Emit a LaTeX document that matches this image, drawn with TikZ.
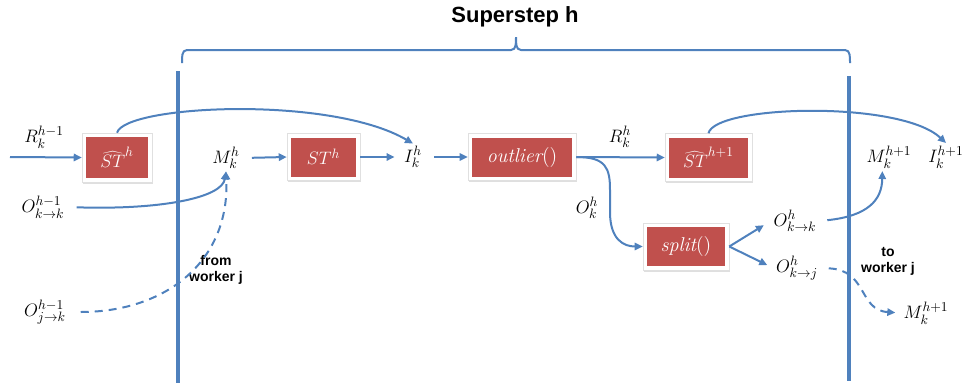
\RequirePackage{fix-cm}
\documentclass[tikz,border=0pt]{standalone}
\usepackage{fontspec}
\newfontfamily\sansf{Liberation Sans}
\DeclareMathSizes{13.5}{13.5}{10.2}{8}
\DeclareMathSizes{15}{15}{11}{8.5}
\usetikzlibrary{arrows.meta,shadows}
\definecolor{lineblue}{RGB}{79,129,189}
\definecolor{boxred}{RGB}{192,80,77}
\begin{document}
\begin{tikzpicture}[x=0.75pt,y=-0.75pt,
  proc/.style={fill=white, draw=black!12, line width=0.4pt, text=white,
    drop shadow={opacity=0.25, shadow xshift=0.9pt, shadow yshift=-1.4pt},
    path picture={\fill[boxred] ([shift={(3pt,3pt)}]path picture bounding box.south west)
      rectangle ([shift={(-3pt,-3pt)}]path picture bounding box.north east);},
    font=\fontsize{13.5}{15}\selectfont, inner sep=0pt},
  big/.style={font=\fontsize{15}{17}\selectfont},
  lab/.style={font=\fontsize{13.5}{15}\selectfont, inner sep=2pt},
  note/.style={font=\sansf\bfseries\fontsize{10.5}{12}\selectfont, align=center, inner sep=0pt},
  flow/.style={draw=lineblue, line width=1.5pt, -{Triangle[length=6pt,width=5.5pt]}},
  dflow/.style={flow, dash pattern=on 6pt off 4.5pt},
  wall/.style={draw=lineblue, line width=3pt},
  brace/.style={draw=lineblue, line width=1.5pt}]
\useasboundingbox (0,0) rectangle (965,383);

% title and brace
\node[font=\sansf\bfseries\fontsize{16.5}{18}\selectfont, anchor=base] (title) at (515,22) {Superstep h};
\draw[brace] (182,63) to[out=90,in=180] (187,50) -- (511,50) to[out=0,in=-90] (516,37)
  to[out=-90,in=180] (521,50) -- (845,50) to[out=0,in=90] (850,63);

% walls
\draw[wall] (178,71) -- (178,383);
\draw[wall] (849,76) -- (849,381);

% boxes
\node[proc, minimum width=52.5pt, minimum height=36.75pt] (b1) at (117,157.5) {$\widehat{ST}^{h}$};
\node[proc, minimum width=54.75pt, minimum height=35.25pt] (b2) at (323.5,157) {$ST^{h}$};
\node[proc, big, minimum width=81pt, minimum height=35.25pt] (b3) at (522,157) {$\mathit{outlier}()$};
\node[proc, minimum width=65.25pt, minimum height=36pt] (b4) at (708.5,157.5) {$\widehat{ST}^{h+1}$};
\node[proc, big, minimum width=64.5pt, minimum height=35.25pt] (b5) at (686,246.5) {$\mathit{split}()$};

% labels
\node[lab] (Rk0) at (44,137) {$R_k^{h-1}$};
\node[lab] (Okk0) at (43,207) {$O_{k\to k}^{h-1}$};
\node[lab] (Ojk0) at (45,312) {$O_{j\to k}^{h-1}$};
\node[lab] (Mk) at (226,158) {$M_k^{h}$};
\node[note] (from) at (216,270) {from\\worker j};
\node[lab] (Ik) at (413,157) {$I_k^{h}$};
\node[lab] (Rkh) at (620,137) {$R_k^{h}$};
\node[lab] (Okh) at (587,208) {$O_k^{h}$};
\node[lab] (Okkh) at (795,221) {$O_{k\to k}^{h}$};
\node[lab] (Okjh) at (797,268) {$O_{k\to j}^{h}$};
\node[lab] (Mk1) at (889,157) {$M_k^{h+1}$};
\node[lab] (Ik1) at (946,157) {$I_k^{h+1}$};
\node[note] (to) at (888,261) {to\\worker j};
\node[lab] (Mk1b) at (926,313) {$M_k^{h+1}$};

% connectors
\coordinate (in0) at (10,157);
\draw[flow] (in0) -- (b1.west);
\draw[flow] (b1.north) .. controls (125,105) and (330,95) .. (Ik.north);
\draw[flow, shorten <=7pt] (Okk0.east) .. controls (160,210) and (222,198) .. (Mk.south);
\draw[dflow, shorten <=9pt] (Ojk0.east) .. controls (165,312) and (230,262) .. (Mk.south);
\draw[flow, shorten <=7pt] (Mk.east) -- (b2.west);
\draw[flow, shorten >=5pt] (b2.east) -- (Ik.west);
\draw[flow, shorten <=7pt] (Ik.east) -- (b3.west);
\draw[flow] (b3.east) -- (b4.west);
\draw[flow] (b3.east) .. controls (606,157) and (610,168) .. (610,190) -- (610,212)
  .. controls (610,240) and (624,246.5) .. (b5.west);
\draw[flow, shorten >=6pt] (b5.east) -- (Okkh.west);
\draw[flow, shorten >=5pt] (b5.east) -- (Okjh.west);
\draw[flow, shorten <=6pt] (Okkh.east) .. controls (868,216) and (882,200) .. ([xshift=-5pt]Mk1.south);
\draw[dflow, shorten <=6pt, shorten >=4pt] (Okjh.east) .. controls (868,270) and (858,310) .. (Mk1b.west);
\draw[flow] (b4.north) .. controls (715,105) and (900,100) .. (Ik1.north);
\end{tikzpicture}
\end{document}
